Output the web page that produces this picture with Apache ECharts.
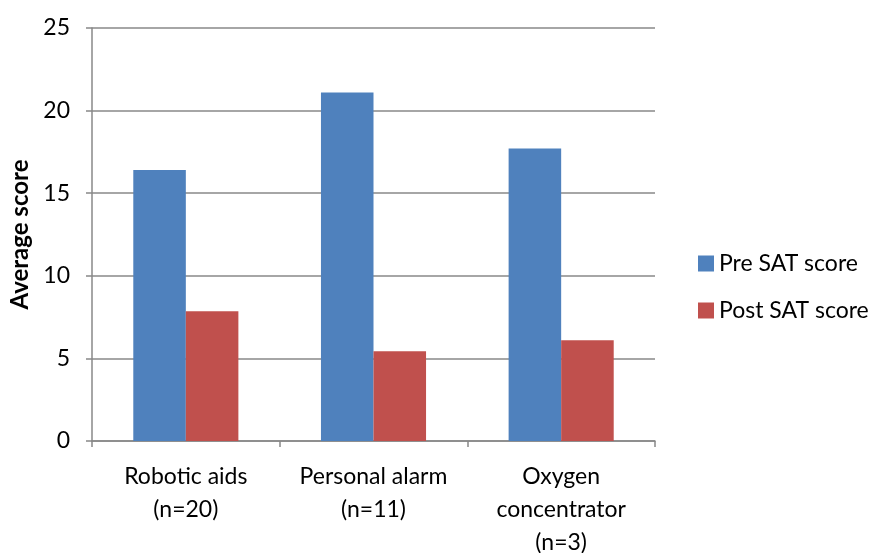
<!DOCTYPE html>
<html><head><meta charset="utf-8">
<script src="https://cdn.jsdelivr.net/npm/echarts@6/dist/echarts.min.js"></script>
<style>html,body{margin:0;padding:0;background:#fff}#c{width:872px;height:553px}</style>
</head><body><div id="c"></div>
<script>
const categories = ['Robotic aids\n(n=20)', 'Personal alarm\n(n=11)', 'Oxygen\nconcentrator\n(n=3)'];
const preSAT = [16.4, 21.1, 17.7];
const postSAT = [7.85, 5.43, 6.1];
const seriesNames = ['Pre SAT score', 'Post SAT score'];
const yTicks = {min: 0, max: 25, interval: 5};

const font = 'Lato, "Open Sans", sans-serif';
const chart = echarts.init(document.getElementById('c'));
chart.setOption({
  animation: false,
  textStyle: {fontFamily: font},
  grid: {left: 92, right: 217, top: 28, bottom: 112, containLabel: false, outerBoundsMode: 'none'},
  legend: {
    orient: 'vertical', left: 693, top: 247,
    itemWidth: 16, itemHeight: 16, itemGap: 24,
    icon: 'rect',
    textStyle: {fontSize: 23, color: '#000', fontFamily: font},
    data: seriesNames
  },
  xAxis: {
    type: 'category', data: categories,
    axisLine: {lineStyle: {color: '#888', width: 1.5}},
    axisTick: {show: true, length: 6, lineStyle: {color: '#888', width: 1.5}},
    axisLabel: {interval: 0, fontSize: 23, color: '#000', lineHeight: 33, margin: 19, fontFamily: font}
  },
  yAxis: {
    type: 'value', min: yTicks.min, max: yTicks.max, interval: yTicks.interval,
    name: 'Average score', nameLocation: 'middle', nameGap: 58,
    nameTextStyle: {fontSize: 24, fontWeight: 'bold', color: '#000', fontFamily: font},
    axisLine: {show: true, lineStyle: {color: '#888', width: 1.5}},
    axisTick: {show: true, length: 6, lineStyle: {color: '#888', width: 1.5}},
    splitLine: {lineStyle: {color: '#888', width: 1.5}},
    axisLabel: {fontSize: 23, color: '#000', margin: 22, fontFamily: font}
  },
  series: [
    {name: seriesNames[0], type: 'bar', data: preSAT, barGap: '0%', barCategoryGap: '44%',
     itemStyle: {color: '#4F81BD'}},
    {name: seriesNames[1], type: 'bar', data: postSAT,
     itemStyle: {color: '#C0504D'}}
  ]
});
</script></body></html>
